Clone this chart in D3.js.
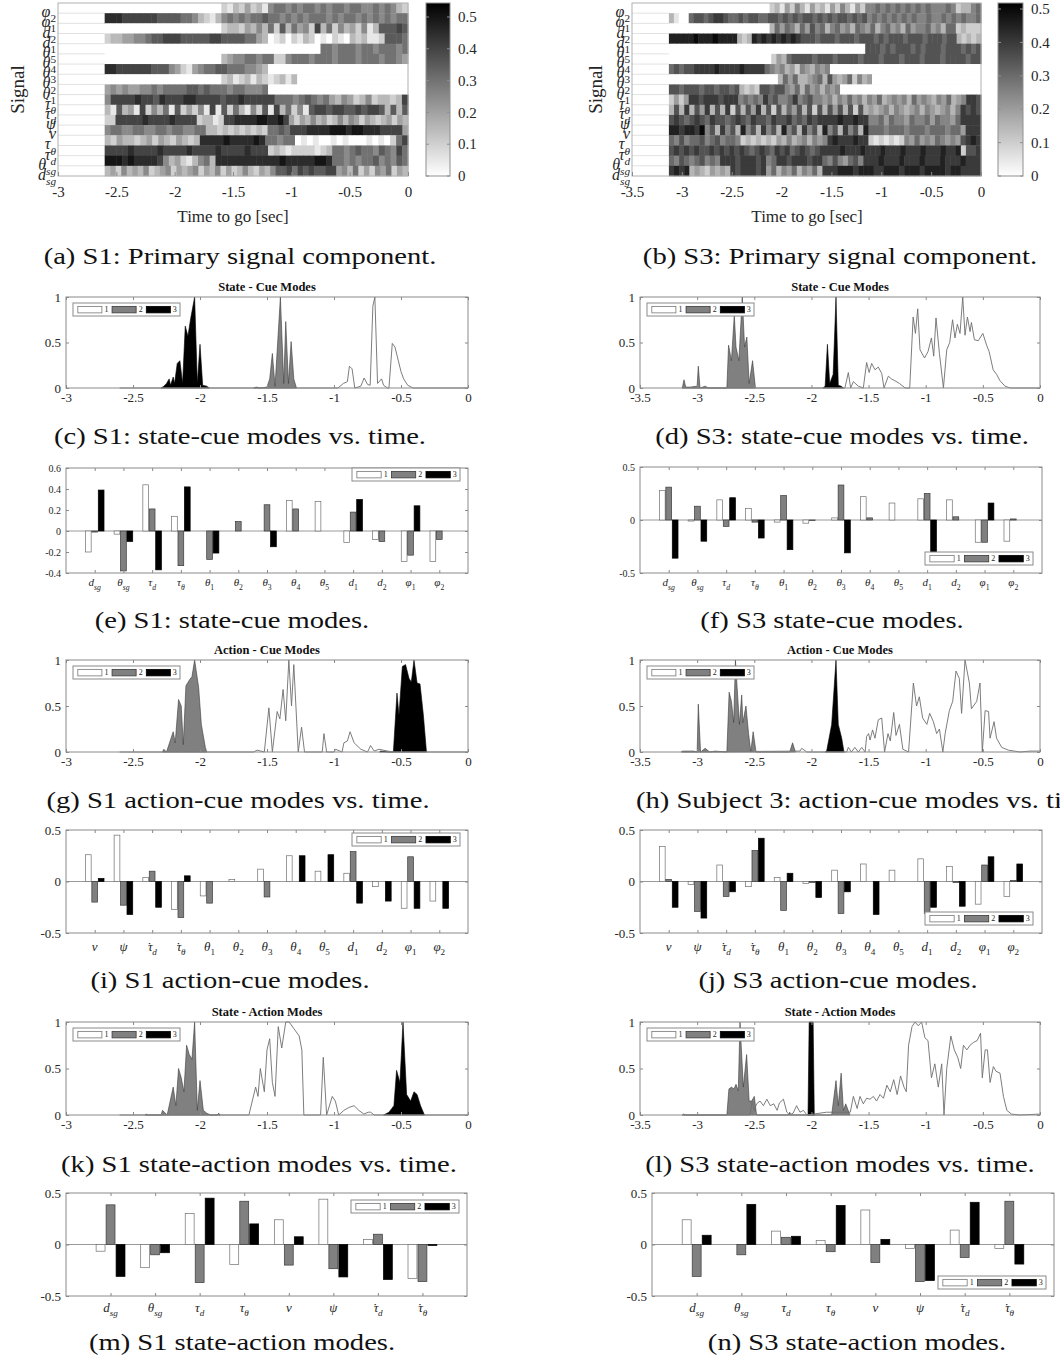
<!DOCTYPE html>
<html>
<head>
<meta charset="utf-8">
<script src="https://cdn.jsdelivr.net/npm/d3@7"></script>
<style>
  body { margin: 0; background: #fff; }
  svg text { font-family: "Liberation Serif", "Times New Roman", serif; }
</style>
</head>
<body>
<svg id="fig" width="1060" height="1362"></svg>
<script>
// ---------------- signal names (base symbol, subscript, dotted) ----------------
const HEAT_SIGNALS = [["φ","2"],["φ","1"],["d","2"],["d","1"],["θ","5"],["θ","4"],["θ","3"],["θ","2"],["θ","1"],
  ["τ","θ",1],["τ","d",1],["ψ",""],["v",""],["τ","θ"],["τ","d"],["θ","sg"],["d","sg"]];
const STATE_CUE_SIGNALS = [["d","sg"],["θ","sg"],["τ","d"],["τ","θ"],["θ","1"],["θ","2"],["θ","3"],["θ","4"],["θ","5"],["d","1"],["d","2"],["φ","1"],["φ","2"]];
const ACTION_CUE_SIGNALS = [["v",""],["ψ",""],["τ","d",1],["τ","θ",1],["θ","1"],["θ","2"],["θ","3"],["θ","4"],["θ","5"],["d","1"],["d","2"],["φ","1"],["φ","2"]];
const STATE_ACTION_SIGNALS = [["d","sg"],["θ","sg"],["τ","d"],["τ","θ"],["v",""],["ψ",""],["τ","d",1],["τ","θ",1]];

const TIME_TICKS_S1 = [-3, -2.5, -2, -1.5, -1, -0.5, 0];
const TIME_TICKS_S3 = [-3.5, -3, -2.5, -2, -1.5, -1, -0.5, 0];
const CBAR_TICKS = [0, 0.1, 0.2, 0.3, 0.4, 0.5];

// ---------------- primary signal component (rows top -> bottom, hex level x 0.05) ----------------
const S1_HEAT = [
  "00000000000000000000" + "21324231" + "566565665656656655656532",
  "99988888" + "87777665" + "3213" + "56565667665656566656566565656566",
  "00000000000000000000" + "23324353" + "627364528362" + "5342513" + "77787",
  "23344556" + "778887777788" + "77776643" + "012021320102103231127776",
  "0000000000000000000000000000000000000" + "665666566566656",
  "00000000000000000000" + "34556656622566656665666566656654",
  "99888888777" + "5421" + "4566776665543" + "000000000000000000000000",
  "00000000000000000000" + "2312313212313" + "0000000000000000000",
  "4545445565666677676665665556" + "000000000000000000000000",
  "5888898879888998888788988888" + "6665676564354235233238",
  "3173418253617242518172631527183625178878877878873737",
  "2288888988889888823312889999AA99A84243534235354243234243",
  "5665566556656655663" + "3232323232" + "6676" + "8889999AAA9AA99988884",
  "3243323424324323" + "9999A9999A9" + "66566" + "0101001010001010268",
  "8888988889888898888988889888" + "23212222123" + "6656766576586",
  "AAA9A99998" + "534213563" + "99999999999A99999AA9" + "6656566756576",
  "3425343523452434524352423532435" + "77868787788" + "4536242546243"
];
const S3_HEAT = [
  "00000000000000000000" + "2314253142314253142" + "55656565656565556523356",
  "3100" + "67767887667677667" + "7676767767676776767" + "56565656565565565656556",
  "00000000000000000000" + "3646536475635645365463564536455645366" + "23222",
  "99999A999A9999" + "323" + "9898989898" + "77767776777677767677767776777677" + "32323",
  "000000000000000000000000000000000000000" + "77767677767677767776767",
  "00000000000000000000" + "2436" + "7777677767777677767776777677767777677",
  "67677" + "88889888898888" + "6545342543545" + "000000000000000000000000000000",
  "0000000000000000000000" + "3646334563743462534" + "0000000000000000000000",
  "77677767767767" + "3232" + "77677" + "54636453545" + "0000000000000000000000000000",
  "2424" + "8878887888" + "56565867556856755" + "45354645354634545364543546345" + "887",
  "373837483738273748372736473727374737273" + "434535434535434535" + "8787",
  "787678768776787687768778676878" + "888988988" + "556465546556465546" + "8888",
  "998998A" + "57385739573857395738573957385739" + "666566656665666566" + "4888",
  "65756675675665" + "2323232" + "4353453545" + "89888988" + "2121212" + "54645465454" + "7898",
  "7878787787878" + "787678768786787678" + "888988898889888988898889889" + "2" + "778",
  "6576567565" + "888788878" + "56" + "887888788" + "657546758" + "8898889888988898889" + "888",
  "8989" + "34324343" + "8788878" + "46354635463" + "8889998999889998999899998998" + "888"
];

// ---------------- mode weights vs. time: [mode1, mode2, mode3], points [t, w] ----------------
const S1_STATE_CUE_T = [
  [[-2.6,0],[-0.97,0],[-0.93,0.05],[-0.9,0.07],[-0.885,0.24],[-0.865,0.21],[-0.845,0],[-0.8,0.02],[-0.775,0.11],[-0.75,0.04],[-0.73,0.03],[-0.71,0.9],[-0.695,1.0],[-0.675,0.05],[-0.645,0.1],[-0.63,0.03],[-0.6,0],[-0.59,0],[-0.565,0.49],[-0.545,0.45],[-0.52,0.3],[-0.5,0.18],[-0.48,0.1],[-0.45,0.03],[-0.41,0],[0,0]],
  [[-1.6,0],[-1.58,0.01],[-1.55,0],[-1.5,0.01],[-1.48,0.1],[-1.46,0.38],[-1.44,0.02],[-1.4,1.0],[-1.375,0.05],[-1.36,0.73],[-1.34,0.05],[-1.32,0.51],[-1.3,0.1],[-1.28,0]],
  [[-2.29,0],[-2.27,0.02],[-2.25,0.05],[-2.23,0.1],[-2.22,0.03],[-2.2,0.12],[-2.19,0.05],[-2.17,0.27],[-2.15,0.3],[-2.13,0.05],[-2.11,0.68],[-2.09,0.57],[-2.07,0.76],[-2.04,1.0],[-2.02,0.05],[-2.0,0.48],[-1.98,0.03],[-1.95,0.02],[-1.93,0]]
];
const S3_STATE_CUE_T = [
  [[-3.13,0],[-1.707,0],[-1.677,0.17],[-1.657,0],[-1.633,0.07],[-1.59,0.02],[-1.546,0],[-1.517,0.28],[-1.495,0.17],[-1.473,0.27],[-1.444,0.2],[-1.415,0.23],[-1.385,0.16],[-1.365,0],[-1.327,0.13],[-1.3,0.1],[-1.27,0.08],[-1.23,0.05],[-1.18,0],[-1.14,0],[-1.11,0.78],[-1.09,0.6],[-1.07,0.87],[-1.05,0.42],[-1.01,0.33],[-0.98,0.4],[-0.95,0.55],[-0.93,0.35],[-0.91,0.77],[-0.88,0.38],[-0.845,0],[-0.816,0.42],[-0.79,0.5],[-0.765,0.75],[-0.744,0.55],[-0.723,0.7],[-0.7,0.6],[-0.676,1.0],[-0.656,0.58],[-0.635,0.78],[-0.612,0.62],[-0.6,0.72],[-0.574,0.53],[-0.54,0.52],[-0.5,0.6],[-0.467,0.47],[-0.445,0.4],[-0.41,0.2],[-0.38,0.15],[-0.35,0.08],[-0.306,0.02],[-0.26,0],[0,0]],
  [[-3.13,0],[-3.115,0.09],[-3.1,0.01],[-3.06,0.01],[-3.0,0.02],[-2.99,0.24],[-2.975,0],[-2.93,0.02],[-2.9,0],[-2.74,0],[-2.725,0.47],[-2.7,0.3],[-2.675,0.8],[-2.66,0.45],[-2.635,0.3],[-2.605,1.0],[-2.585,0.45],[-2.565,0.56],[-2.545,0.05],[-2.515,0.3],[-2.49,0]],
  [[-1.9,0],[-1.88,0.02],[-1.86,0.48],[-1.84,0.05],[-1.81,0.15],[-1.785,1.0],[-1.765,0.03],[-1.74,0.02],[-1.72,0]]
];
const S1_ACTION_CUE_T = [
  [[-2.6,0],[-1.6,0],[-1.573,0.02],[-1.52,0],[-1.486,0.48],[-1.46,0],[-1.424,0.44],[-1.404,0.36],[-1.38,0.68],[-1.36,0.34],[-1.337,1.0],[-1.317,0.5],[-1.3,0.95],[-1.267,0],[-1.242,0.27],[-1.22,0],[-1.088,0],[-1.075,0.2],[-1.055,0],[-1.0,0],[-0.988,0.03],[-0.94,0],[-0.926,0.1],[-0.9,0.12],[-0.88,0.22],[-0.85,0.1],[-0.8,0.03],[-0.75,0],[-0.727,0.07],[-0.7,0.01],[-0.664,0.03],[-0.6,0.01],[-0.55,0],[0,0]],
  [[-2.28,0],[-2.27,0.03],[-2.25,0],[-2.2,0.22],[-2.185,0.1],[-2.16,0.57],[-2.14,0.5],[-2.125,0.08],[-2.105,0.72],[-2.08,0.78],[-2.06,0.82],[-2.04,1.0],[-2.01,0.7],[-1.99,0.3],[-1.96,0.05],[-1.95,0]],
  [[-0.66,0],[-0.652,0.01],[-0.59,0],[-0.557,0],[-0.53,0.64],[-0.515,0.4],[-0.49,0.93],[-0.466,0.95],[-0.44,0.8],[-0.423,0.76],[-0.403,1.0],[-0.38,0.75],[-0.358,0.74],[-0.333,0.4],[-0.31,0]]
];
const S3_ACTION_CUE_T = [
  [[-3.13,0],[-2.1,0.01],[-2.085,0.04],[-2.04,0],[-1.692,0],[-1.677,0.05],[-1.65,0],[-1.62,0.05],[-1.59,0],[-1.56,0.05],[-1.53,0],[-1.517,0.17],[-1.5,0.2],[-1.487,0.13],[-1.465,0.24],[-1.444,0.15],[-1.415,0.35],[-1.385,0.37],[-1.36,0],[-1.33,0.2],[-1.31,0.12],[-1.28,0.43],[-1.26,0.18],[-1.23,0.3],[-1.2,0.03],[-1.15,0],[-1.108,0.75],[-1.08,0.5],[-1.056,0.6],[-1.027,0.37],[-0.99,0.3],[-0.965,0.42],[-0.933,0.33],[-0.904,0.2],[-0.88,0.25],[-0.85,0],[-0.83,0.2],[-0.793,0.45],[-0.764,0.55],[-0.735,0.88],[-0.706,0.8],[-0.686,0.42],[-0.656,1.0],[-0.618,0.75],[-0.6,0.47],[-0.554,0.55],[-0.525,0.75],[-0.505,0],[-0.48,0.45],[-0.45,0.44],[-0.437,0.15],[-0.402,0.33],[-0.38,0.15],[-0.335,0.05],[-0.277,0.02],[-0.175,0],[-0.087,0.01],[0,0.01]],
  [[-3.14,0],[-3.127,0.01],[-3.03,0.01],[-3.0,0],[-2.99,0.52],[-2.97,0],[-2.93,0.04],[-2.89,0],[-2.844,0.01],[-2.74,0],[-2.72,0.65],[-2.7,0.55],[-2.68,0.32],[-2.665,1.0],[-2.63,0.3],[-2.61,0.62],[-2.6,0.32],[-2.573,0.5],[-2.55,0.2],[-2.53,0],[-2.51,0.22],[-2.485,0],[-2.19,0],[-2.165,0.1],[-2.14,0]],
  [[-1.88,0],[-1.867,0.01],[-1.823,0.3],[-1.785,1.0],[-1.765,0.3],[-1.735,0.15],[-1.715,0]]
];
const S1_STATE_ACTION_T = [
  [[-2.6,0],[-1.635,0],[-1.585,0.3],[-1.567,0.2],[-1.55,0.5],[-1.52,0.25],[-1.5,0.7],[-1.48,0.82],[-1.46,0.35],[-1.44,0.2],[-1.416,0.95],[-1.39,0.72],[-1.36,1.0],[-1.335,1.0],[-1.3,0.93],[-1.26,0.85],[-1.24,0.7],[-1.225,0],[-1.1,0],[-1.08,0.62],[-1.055,0],[-1.013,0.2],[-0.99,0.15],[-0.965,0],[-0.926,0.05],[-0.89,0.08],[-0.85,0.1],[-0.815,0.05],[-0.777,0.01],[-0.745,0.03],[-0.727,0.03],[-0.7,0],[0,0]],
  [[-2.41,0],[-2.4,0.01],[-2.39,0],[-2.29,0],[-2.28,0.05],[-2.245,0],[-2.2,0.3],[-2.18,0.1],[-2.16,0.5],[-2.14,0.4],[-2.12,0.25],[-2.1,0.75],[-2.08,0.65],[-2.06,0.6],[-2.04,1.0],[-2.02,0.05],[-2.0,0.37],[-1.975,0.05],[-1.95,0.02],[-1.92,0],[-1.87,0],[-1.86,0.02],[-1.85,0]],
  [[-0.63,0],[-0.59,0.03],[-0.553,0.1],[-0.533,0.48],[-0.508,0.35],[-0.485,1.0],[-0.458,0.22],[-0.428,0.15],[-0.403,0.25],[-0.38,0.22],[-0.354,0.1],[-0.325,0]]
];
const S3_STATE_ACTION_T = [
  [[-3.13,0],[-2.537,0],[-2.52,0.15],[-2.5,0.05],[-2.48,0.12],[-2.45,0.15],[-2.42,0.1],[-2.39,0.17],[-2.36,0.1],[-2.33,0.12],[-2.3,0.05],[-2.28,0.13],[-2.245,0.17],[-2.215,0.03],[-2.19,0],[-2.16,0.02],[-2.13,0.1],[-2.1,0.03],[-2.07,0.05],[-2.04,0],[-1.925,0.02],[-1.867,0.03],[-1.66,0.03],[-1.633,0.2],[-1.6,0.07],[-1.575,0.2],[-1.546,0.12],[-1.517,0.18],[-1.487,0.17],[-1.458,0.2],[-1.43,0.15],[-1.4,0.22],[-1.37,0.18],[-1.34,0.32],[-1.31,0.25],[-1.28,0.38],[-1.25,0.22],[-1.22,0.42],[-1.19,0.3],[-1.17,0.25],[-1.15,0.75],[-1.12,0.95],[-1.094,1.0],[-1.065,0.96],[-1.036,1.0],[-1.007,0.83],[-0.98,0.8],[-0.95,0.4],[-0.92,0.55],[-0.89,0.3],[-0.86,0.55],[-0.84,0],[-0.816,0.5],[-0.78,0.85],[-0.75,0.7],[-0.72,0.62],[-0.694,0.5],[-0.67,0.75],[-0.64,0.7],[-0.612,0.75],[-0.583,0.78],[-0.55,0.8],[-0.52,0.88],[-0.505,0.4],[-0.48,0.7],[-0.46,0.7],[-0.437,0.35],[-0.408,0.52],[-0.385,0.47],[-0.35,0.45],[-0.32,0.2],[-0.29,0.05],[-0.25,0.01],[-0.175,0],[0,0.01]],
  [[-3.13,0],[-3.12,0.01],[-3.1,0],[-2.74,0],[-2.722,0.28],[-2.7,0.3],[-2.678,0.28],[-2.66,0.33],[-2.64,0.26],[-2.625,1.0],[-2.596,0.3],[-2.567,0.65],[-2.545,0.15],[-2.523,0.15],[-2.5,0.2],[-2.48,0],[-2.2,0],[-2.19,0.03],[-2.18,0],[-1.823,0],[-1.785,0.37],[-1.765,0.1],[-1.74,0.45],[-1.72,0.05],[-1.7,0.12],[-1.663,0]],
  [[-2.03,0],[-2.02,1.0],[-1.985,1.0],[-1.975,0]]
];

// ---------------- mode shapes: [mode1, mode2, mode3] per signal ----------------
const S1_STATE_CUE = [
  [-0.20,-0.03,0.44,0.14,0,0,0,0.29,0.28,-0.11,-0.08,-0.29,-0.29],
  [-0.01,-0.38,0.21,-0.33,-0.27,0.09,0.25,0.21,0,0.18,-0.10,-0.23,-0.08],
  [0.39,-0.10,-0.37,0.42,-0.21,0,-0.15,0,0,0.30,0,0.24,0]
];
const S3_STATE_CUE = [
  [0.28,-0.01,0.19,0.11,-0.02,-0.03,0.02,0.22,0.16,0.20,0.19,-0.21,-0.20],
  [0.31,0.13,-0.06,-0.02,0.23,-0.005,0.33,0.02,0,0.25,0.03,-0.21,0.01],
  [-0.36,-0.20,0.21,-0.17,-0.28,0,-0.31,0,0,-0.34,0,0.16,0]
];
const S1_ACTION_CUE = [
  [0.26,0.45,0.04,-0.27,-0.14,0.02,0.12,0.25,0.10,0.08,-0.05,-0.26,-0.19],
  [-0.20,-0.23,0.10,-0.35,-0.21,0,-0.15,0,0,0.29,0,0.24,0],
  [0.03,-0.32,-0.25,0.055,0,0,0,0.25,0.26,-0.21,-0.19,-0.26,-0.26]
];
const S3_ACTION_CUE = [
  [0.34,-0.03,0.16,-0.05,0.04,-0.02,0.11,0.17,0.11,0.22,0.145,-0.22,-0.145],
  [0.02,-0.29,-0.145,0.30,-0.28,-0.01,-0.31,0,0,-0.31,-0.01,0.16,0.01],
  [-0.25,-0.355,-0.10,0.42,0.08,-0.155,-0.10,-0.32,0,-0.25,-0.24,0.24,0.17]
];
const S1_STATE_ACTION = [
  [-0.065,-0.225,0.30,-0.195,0.24,0.44,0.05,-0.33],
  [0.385,-0.10,-0.37,0.42,-0.20,-0.235,0.10,-0.36],
  [-0.31,-0.08,0.45,0.20,0.075,-0.315,-0.34,-0.01]
];
const S3_STATE_ACTION = [
  [0.24,0,0.13,0.04,0.335,-0.04,0.14,-0.04],
  [-0.31,-0.10,0.07,-0.07,-0.175,-0.36,-0.127,0.42],
  [0.09,0.39,0.08,0.38,0.05,-0.35,0.41,-0.19]
];

// ---------------- drawing ----------------
const svg = d3.select("#fig");
const INK = "#262626";
const FRAME = "#8a8a8a";
const MODE_FILL = ["#ffffff", "#808080", "#000000"];
const MODE_EDGE = ["#6e6e6e", "#3a3a3a", "#000000"];

// italic symbol, optional dot above (time derivative), subscript
function mathLabel(text, sym, size) {
  text.append("tspan").attr("font-style", "italic").text(sym[0]);
  if (sym[2]) {
    text.append("tspan").attr("dx", -size * 0.40).attr("font-size", size).text("˙");
  }
  if (sym[1]) {
    const sub = sym[1];
    text.append("tspan")
      .attr("font-style", /^\d+$/.test(sub) ? "normal" : "italic")
      .attr("font-size", size * 0.7)
      .attr("dx", sym[2] ? size * 0.05 : 0)
      .attr("dy", size * 0.32)
      .text(sub);
  }
}

function styleAxis(g, size) {
  g.attr("font-family", null).attr("font-size", null);
  g.select(".domain").remove();
  g.selectAll(".tick line").attr("stroke", FRAME);
  g.selectAll(".tick text").attr("font-size", size).attr("fill", INK);
}

function legend(g, x, y, w, h) {
  const lg = g.append("g");
  lg.append("rect").attr("x", x).attr("y", y).attr("width", w).attr("height", h)
    .attr("fill", "#fff").attr("stroke", FRAME).attr("stroke-width", 1);
  const sw = w * 0.225, step = w * 0.32;
  [0, 1, 2].forEach(k => {
    const sx = x + w * 0.045 + k * step;
    lg.append("rect").attr("x", sx).attr("y", y + h * 0.26).attr("width", sw).attr("height", h * 0.5)
      .attr("fill", MODE_FILL[k]).attr("stroke", k === 0 ? "#777" : MODE_EDGE[k]).attr("stroke-width", 0.8);
    lg.append("text").attr("x", sx + sw + 2.5).attr("y", y + h * 0.5).attr("dy", "0.35em")
      .attr("font-size", 8).attr("fill", INK).text(k + 1);
  });
}

function heatmap(cfg) {
  const g = svg.append("g");
  const x = d3.scaleLinear().domain([cfg.tMin, 0]).range([cfg.x0, cfg.x1]);
  const y = d3.scaleBand().domain(d3.range(cfg.rows.length)).range([cfg.y0, cfg.y1]);
  const color = d3.scaleLinear().domain([0, cfg.cMax]).range(["#ffffff", "#000000"]).clamp(true);
  const level = ch => parseInt(ch, 16) * 0.05;

  // light row separators, visible where no data is drawn
  d3.range(1, cfg.rows.length).forEach(i => {
    g.append("line").attr("x1", cfg.x0).attr("x2", cfg.x1).attr("y1", y(i)).attr("y2", y(i))
      .attr("stroke", "#e2e2e2").attr("stroke-width", 1);
  });

  cfg.rows.forEach((row, r) => {
    const n = row.length, dt = (0 - cfg.tStart) / n;
    for (let i = 0; i < n; i++) {
      const ta = cfg.tStart + i * dt, tb = ta + dt;
      g.append("rect").attr("x", x(ta)).attr("y", y(r))
        .attr("width", x(tb) - x(ta) + 0.5).attr("height", y.bandwidth() + 0.3)
        .attr("fill", color(level(row[i])));
    }
  });

  g.append("rect").attr("x", cfg.x0).attr("y", cfg.y0).attr("width", cfg.x1 - cfg.x0).attr("height", cfg.y1 - cfg.y0)
    .attr("fill", "none").attr("stroke", "#b0b0b0");

  const gx = g.append("g").attr("transform", `translate(0,${cfg.y1})`)
    .call(d3.axisBottom(x).tickValues(cfg.ticks).tickSize(-4).tickPadding(10).tickFormat(String));
  styleAxis(gx, 15);

  // row labels at the lower edge of each row
  cfg.labels.forEach((sym, r) => {
    const t = g.append("text").attr("x", cfg.labelX).attr("y", y(r) + y.bandwidth()).attr("dy", "0.25em")
      .attr("text-anchor", "end").attr("font-size", 16).attr("fill", INK);
    mathLabel(t, sym, 16);
  });

  g.append("text").attr("transform", `translate(${cfg.signalX},${(cfg.y0 + cfg.y1) / 2}) rotate(-90)`)
    .attr("text-anchor", "middle").attr("dy", "0.35em").attr("font-size", 19).attr("fill", INK).text("Signal");
  g.append("text").attr("x", cfg.xLabelX).attr("y", cfg.y1 + 46).attr("text-anchor", "middle")
    .attr("font-size", 17).attr("fill", INK).text("Time to go [sec]");

  // colour bar
  const gid = "cb" + cfg.id;
  const grad = svg.append("defs").append("linearGradient").attr("id", gid)
    .attr("x1", 0).attr("y1", 1).attr("x2", 0).attr("y2", 0);
  grad.append("stop").attr("offset", 0).attr("stop-color", color(0));
  grad.append("stop").attr("offset", 1).attr("stop-color", color(cfg.cMax));
  const cy = d3.scaleLinear().domain([0, cfg.cMax]).range([cfg.y1, cfg.y0]);
  g.append("rect").attr("x", cfg.cbX).attr("y", cfg.y0).attr("width", cfg.cbW).attr("height", cfg.y1 - cfg.y0)
    .attr("fill", `url(#${gid})`).attr("stroke", "#8f8f8f");
  CBAR_TICKS.forEach(v => {
    g.append("line").attr("x1", cfg.cbX + cfg.cbW - 3).attr("x2", cfg.cbX + cfg.cbW).attr("y1", cy(v)).attr("y2", cy(v)).attr("stroke", "#8f8f8f");
    g.append("line").attr("x1", cfg.cbX).attr("x2", cfg.cbX + 3).attr("y1", cy(v)).attr("y2", cy(v)).attr("stroke", "#8f8f8f");
    g.append("text").attr("x", cfg.cbX + cfg.cbW + 8).attr("y", cy(v)).attr("dy", "0.35em")
      .attr("font-size", 15).attr("fill", INK).text(String(v));
  });
}

function modesTime(cfg) {
  const g = svg.append("g");
  const x = d3.scaleLinear().domain([cfg.tMin, 0]).range([cfg.x0, cfg.x1]);
  const y = d3.scaleLinear().domain([0, 1]).range([cfg.y1, cfg.y0]);
  const clipId = "clip" + cfg.id;
  svg.append("defs").append("clipPath").attr("id", clipId).append("rect")
    .attr("x", cfg.x0).attr("y", cfg.y0 - 1).attr("width", cfg.x1 - cfg.x0).attr("height", cfg.y1 - cfg.y0 + 2);
  const area = d3.area().x(d => x(d[0])).y0(y(0)).y1(d => y(d[1]));
  const line = d3.line().x(d => x(d[0])).y(d => y(d[1]));
  const plot = g.append("g").attr("clip-path", `url(#${clipId})`);

  plot.append("path").attr("d", area(cfg.series[1])).attr("fill", MODE_FILL[1]).attr("stroke", MODE_EDGE[1]).attr("stroke-width", 0.6);
  plot.append("path").attr("d", area(cfg.series[2])).attr("fill", MODE_FILL[2]).attr("stroke", MODE_EDGE[2]).attr("stroke-width", 0.6);
  plot.append("path").attr("d", line(cfg.series[0])).attr("fill", "none").attr("stroke", MODE_EDGE[0]).attr("stroke-width", 0.9);

  g.append("rect").attr("x", cfg.x0).attr("y", cfg.y0).attr("width", cfg.x1 - cfg.x0).attr("height", cfg.y1 - cfg.y0)
    .attr("fill", "none").attr("stroke", FRAME);

  const gx = g.append("g").attr("transform", `translate(0,${cfg.y1})`)
    .call(d3.axisBottom(x).tickValues(cfg.ticks).tickSize(-3).tickPadding(5).tickFormat(String));
  styleAxis(gx, 13);
  const gxt = g.append("g").attr("transform", `translate(0,${cfg.y0})`)
    .call(d3.axisTop(x).tickValues(cfg.ticks).tickSize(-3).tickFormat(""));
  styleAxis(gxt, 13);
  const gy = g.append("g").attr("transform", `translate(${cfg.x0},0)`)
    .call(d3.axisLeft(y).tickValues([0, 0.5, 1]).tickSize(-3).tickPadding(5).tickFormat(String));
  styleAxis(gy, 13);
  const gyr = g.append("g").attr("transform", `translate(${cfg.x1},0)`)
    .call(d3.axisRight(y).tickValues([0, 0.5, 1]).tickSize(-3).tickFormat(""));
  styleAxis(gyr, 13);

  g.append("text").attr("x", (cfg.x0 + cfg.x1) / 2).attr("y", cfg.y0 - 6).attr("text-anchor", "middle")
    .attr("font-size", 12.5).attr("font-weight", "bold").attr("fill", "#111").text(cfg.title);
  legend(g, cfg.x0 + 7, cfg.y0 + 6, 107, 13);
}

function modesBar(cfg) {
  const g = svg.append("g");
  const n = cfg.labels.length;
  const x = d3.scaleLinear().domain([0, n + 1]).range([cfg.x0, cfg.x1]);
  const y = d3.scaleLinear().domain(cfg.yDomain).range([cfg.y1, cfg.y0]);
  const bw = 0.2, off = 0.224;

  g.append("line").attr("x1", cfg.x0).attr("x2", cfg.x1).attr("y1", y(0)).attr("y2", y(0))
    .attr("stroke", "#9a9a9a").attr("stroke-width", 1);

  cfg.values.forEach((vals, k) => {
    g.selectAll(null).data(vals).enter().append("rect")
      .attr("x", (v, i) => x(i + 1 + (k - 1) * off - bw / 2))
      .attr("width", x(bw) - x(0))
      .attr("y", v => y(Math.max(v, 0)))
      .attr("height", v => Math.abs(y(v) - y(0)))
      .attr("fill", MODE_FILL[k])
      .attr("stroke", k === 0 ? "#707070" : MODE_EDGE[k])
      .attr("stroke-width", 0.7);
  });

  g.append("rect").attr("x", cfg.x0).attr("y", cfg.y0).attr("width", cfg.x1 - cfg.x0).attr("height", cfg.y1 - cfg.y0)
    .attr("fill", "none").attr("stroke", FRAME);

  const cats = d3.range(1, n + 1);
  const gx = g.append("g").attr("transform", `translate(0,${cfg.y1})`)
    .call(d3.axisBottom(x).tickValues(cats).tickSize(-3).tickFormat(""));
  styleAxis(gx, 10);
  const gxt = g.append("g").attr("transform", `translate(0,${cfg.y0})`)
    .call(d3.axisTop(x).tickValues(cats).tickSize(-3).tickFormat(""));
  styleAxis(gxt, 10);
  const gy = g.append("g").attr("transform", `translate(${cfg.x0},0)`)
    .call(d3.axisLeft(y).tickValues(cfg.yTicks).tickSize(-3).tickPadding(5).tickFormat(String));
  styleAxis(gy, cfg.tickSize);
  const gyr = g.append("g").attr("transform", `translate(${cfg.x1},0)`)
    .call(d3.axisRight(y).tickValues(cfg.yTicks).tickSize(-3).tickFormat(""));
  styleAxis(gyr, cfg.tickSize);

  cfg.labels.forEach((sym, i) => {
    const t = g.append("text").attr("x", x(i + 1)).attr("y", cfg.y1 + cfg.labelDy)
      .attr("text-anchor", "middle").attr("font-size", cfg.labelSize).attr("fill", INK);
    mathLabel(t, sym, cfg.labelSize);
  });
  legend(g, cfg.legend[0], cfg.legend[1], 108, 13);
}

function caption(text, cx, y, anchor) {
  const t = svg.append("text").attr("x", cx).attr("y", y).attr("text-anchor", anchor || "middle")
    .attr("font-size", 24).attr("fill", "#111").text(text);
  const L = t.node().getComputedTextLength();
  t.attr("textLength", L * 1.19).attr("lengthAdjust", "spacingAndGlyphs");
}

// ---- row 1: primary signal component ----
heatmap({ id: "a", rows: S1_HEAT, labels: HEAT_SIGNALS, tMin: -3, tStart: -2.6, ticks: TIME_TICKS_S1,
  x0: 58, x1: 408, y0: 3, y1: 176, cMax: 0.544, cbX: 426, cbW: 24, labelX: 56, signalX: 17, xLabelX: 233 });
heatmap({ id: "b", rows: S3_HEAT, labels: HEAT_SIGNALS, tMin: -3.5, tStart: -3.13, ticks: TIME_TICKS_S3,
  x0: 632, x1: 981, y0: 3, y1: 176, cMax: 0.518, cbX: 998, cbW: 25, labelX: 630, signalX: 595, xLabelX: 807 });
caption("(a) S1: Primary signal component.", 240, 264);
caption("(b) S3: Primary signal component.", 840, 264);

// ---- row 2/3: state-cue ----
modesTime({ id: "c", series: S1_STATE_CUE_T, tMin: -3, ticks: TIME_TICKS_S1, x0: 66, x1: 468, y0: 297, y1: 388, title: "State - Cue Modes" });
modesTime({ id: "d", series: S3_STATE_CUE_T, tMin: -3.5, ticks: TIME_TICKS_S3, x0: 640, x1: 1040, y0: 297, y1: 388, title: "State - Cue Modes" });
caption("(c) S1: state-cue modes vs. time.", 240, 444);
caption("(d) S3: state-cue modes vs. time.", 842, 444);

modesBar({ values: S1_STATE_CUE, labels: STATE_CUE_SIGNALS, x0: 66, x1: 468, y0: 468, y1: 573,
  yDomain: [-0.4, 0.6], yTicks: [-0.4, -0.2, 0, 0.2, 0.4, 0.6], tickSize: 10, labelSize: 11, labelDy: 13, legend: [352, 468] });
modesBar({ values: S3_STATE_CUE, labels: STATE_CUE_SIGNALS, x0: 640, x1: 1042, y0: 467, y1: 573,
  yDomain: [-0.5, 0.5], yTicks: [-0.5, 0, 0.5], tickSize: 10, labelSize: 11, labelDy: 13, legend: [925, 552] });
caption("(e) S1: state-cue modes.", 232, 628);
caption("(f) S3 state-cue modes.", 832, 628);

// ---- row 4/5: action-cue ----
modesTime({ id: "g", series: S1_ACTION_CUE_T, tMin: -3, ticks: TIME_TICKS_S1, x0: 66, x1: 468, y0: 660, y1: 752, title: "Action - Cue Modes" });
modesTime({ id: "h", series: S3_ACTION_CUE_T, tMin: -3.5, ticks: TIME_TICKS_S3, x0: 640, x1: 1040, y0: 660, y1: 752, title: "Action - Cue Modes" });
caption("(g) S1 action-cue modes vs. time.", 238, 808);
caption("(h) Subject 3: action-cue modes vs. time.", 636, 808, "start");

modesBar({ values: S1_ACTION_CUE, labels: ACTION_CUE_SIGNALS, x0: 66, x1: 468, y0: 830, y1: 933,
  yDomain: [-0.5, 0.5], yTicks: [-0.5, 0, 0.5], tickSize: 13, labelSize: 13, labelDy: 18, legend: [352, 833] });
modesBar({ values: S3_ACTION_CUE, labels: ACTION_CUE_SIGNALS, x0: 640, x1: 1042, y0: 830, y1: 933,
  yDomain: [-0.5, 0.5], yTicks: [-0.5, 0, 0.5], tickSize: 13, labelSize: 13, labelDy: 18, legend: [925, 912] });
caption("(i) S1 action-cue modes.", 230, 988);
caption("(j) S3 action-cue modes.", 838, 988);

// ---- row 6/7: state-action ----
modesTime({ id: "k", series: S1_STATE_ACTION_T, tMin: -3, ticks: TIME_TICKS_S1, x0: 66, x1: 468, y0: 1022, y1: 1115, title: "State - Action Modes" });
modesTime({ id: "l", series: S3_STATE_ACTION_T, tMin: -3.5, ticks: TIME_TICKS_S3, x0: 640, x1: 1040, y0: 1022, y1: 1115, title: "State - Action Modes" });
caption("(k) S1 state-action modes vs. time.", 259, 1172);
caption("(l) S3 state-action modes vs. time.", 840, 1172);

modesBar({ values: S1_STATE_ACTION, labels: STATE_ACTION_SIGNALS, x0: 66, x1: 467, y0: 1193, y1: 1296,
  yDomain: [-0.5, 0.5], yTicks: [-0.5, 0, 0.5], tickSize: 13, labelSize: 13, labelDy: 16, legend: [351, 1200] });
modesBar({ values: S3_STATE_ACTION, labels: STATE_ACTION_SIGNALS, x0: 652, x1: 1054, y0: 1193, y1: 1296,
  yDomain: [-0.5, 0.5], yTicks: [-0.5, 0, 0.5], tickSize: 13, labelSize: 13, labelDy: 16, legend: [938, 1276] });
caption("(m) S1 state-action modes.", 242, 1350);
caption("(n) S3 state-action modes.", 857, 1350);
</script>
</body>
</html>
